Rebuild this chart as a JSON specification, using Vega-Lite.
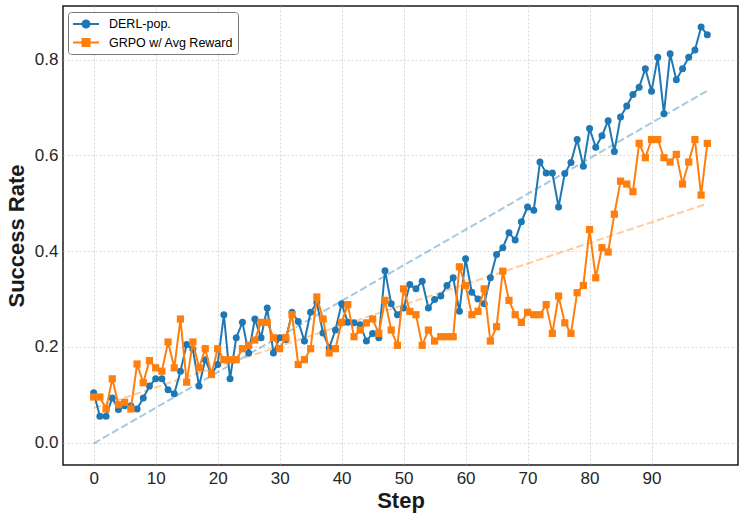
{
  "$schema": "https://vega.github.io/schema/vega-lite/v6.json",
  "width": 675,
  "height": 459,
  "autosize": {"type": "none"},
  "padding": {"left": 63, "top": 6, "right": 9, "bottom": 55},
  "background": "white",
  "datasets": {
    "runs": [
      {"step":0,"value":0.104,"series":"DERL-pop."},{"step":1,"value":0.055,"series":"DERL-pop."},{"step":2,"value":0.055,"series":"DERL-pop."},{"step":3,"value":0.093,"series":"DERL-pop."},{"step":4,"value":0.069,"series":"DERL-pop."},{"step":5,"value":0.077,"series":"DERL-pop."},{"step":6,"value":0.077,"series":"DERL-pop."},{"step":7,"value":0.070,"series":"DERL-pop."},{"step":8,"value":0.093,"series":"DERL-pop."},{"step":9,"value":0.118,"series":"DERL-pop."},
      {"step":10,"value":0.133,"series":"DERL-pop."},{"step":11,"value":0.133,"series":"DERL-pop."},{"step":12,"value":0.110,"series":"DERL-pop."},{"step":13,"value":0.102,"series":"DERL-pop."},{"step":14,"value":0.149,"series":"DERL-pop."},{"step":15,"value":0.205,"series":"DERL-pop."},{"step":16,"value":0.195,"series":"DERL-pop."},{"step":17,"value":0.118,"series":"DERL-pop."},{"step":18,"value":0.173,"series":"DERL-pop."},{"step":19,"value":0.142,"series":"DERL-pop."},
      {"step":20,"value":0.163,"series":"DERL-pop."},{"step":21,"value":0.267,"series":"DERL-pop."},{"step":22,"value":0.133,"series":"DERL-pop."},{"step":23,"value":0.219,"series":"DERL-pop."},{"step":24,"value":0.251,"series":"DERL-pop."},{"step":25,"value":0.187,"series":"DERL-pop."},{"step":26,"value":0.258,"series":"DERL-pop."},{"step":27,"value":0.219,"series":"DERL-pop."},{"step":28,"value":0.281,"series":"DERL-pop."},{"step":29,"value":0.187,"series":"DERL-pop."},
      {"step":30,"value":0.219,"series":"DERL-pop."},{"step":31,"value":0.215,"series":"DERL-pop."},{"step":32,"value":0.272,"series":"DERL-pop."},{"step":33,"value":0.253,"series":"DERL-pop."},{"step":34,"value":0.212,"series":"DERL-pop."},{"step":35,"value":0.272,"series":"DERL-pop."},{"step":36,"value":0.292,"series":"DERL-pop."},{"step":37,"value":0.229,"series":"DERL-pop."},{"step":38,"value":0.198,"series":"DERL-pop."},{"step":39,"value":0.235,"series":"DERL-pop."},
      {"step":40,"value":0.290,"series":"DERL-pop."},{"step":41,"value":0.251,"series":"DERL-pop."},{"step":42,"value":0.250,"series":"DERL-pop."},{"step":43,"value":0.246,"series":"DERL-pop."},{"step":44,"value":0.212,"series":"DERL-pop."},{"step":45,"value":0.228,"series":"DERL-pop."},{"step":46,"value":0.219,"series":"DERL-pop."},{"step":47,"value":0.359,"series":"DERL-pop."},{"step":48,"value":0.290,"series":"DERL-pop."},{"step":49,"value":0.267,"series":"DERL-pop."},
      {"step":50,"value":0.281,"series":"DERL-pop."},{"step":51,"value":0.330,"series":"DERL-pop."},{"step":52,"value":0.321,"series":"DERL-pop."},{"step":53,"value":0.337,"series":"DERL-pop."},{"step":54,"value":0.281,"series":"DERL-pop."},{"step":55,"value":0.299,"series":"DERL-pop."},{"step":56,"value":0.306,"series":"DERL-pop."},{"step":57,"value":0.328,"series":"DERL-pop."},{"step":58,"value":0.344,"series":"DERL-pop."},{"step":59,"value":0.274,"series":"DERL-pop."},
      {"step":60,"value":0.384,"series":"DERL-pop."},{"step":61,"value":0.314,"series":"DERL-pop."},{"step":62,"value":0.300,"series":"DERL-pop."},{"step":63,"value":0.290,"series":"DERL-pop."},{"step":64,"value":0.344,"series":"DERL-pop."},{"step":65,"value":0.393,"series":"DERL-pop."},{"step":66,"value":0.407,"series":"DERL-pop."},{"step":67,"value":0.438,"series":"DERL-pop."},{"step":68,"value":0.423,"series":"DERL-pop."},{"step":69,"value":0.461,"series":"DERL-pop."},
      {"step":70,"value":0.492,"series":"DERL-pop."},{"step":71,"value":0.485,"series":"DERL-pop."},{"step":72,"value":0.586,"series":"DERL-pop."},{"step":73,"value":0.563,"series":"DERL-pop."},{"step":74,"value":0.563,"series":"DERL-pop."},{"step":75,"value":0.492,"series":"DERL-pop."},{"step":76,"value":0.562,"series":"DERL-pop."},{"step":77,"value":0.585,"series":"DERL-pop."},{"step":78,"value":0.633,"series":"DERL-pop."},{"step":79,"value":0.577,"series":"DERL-pop."},
      {"step":80,"value":0.656,"series":"DERL-pop."},{"step":81,"value":0.617,"series":"DERL-pop."},{"step":82,"value":0.641,"series":"DERL-pop."},{"step":83,"value":0.672,"series":"DERL-pop."},{"step":84,"value":0.608,"series":"DERL-pop."},{"step":85,"value":0.680,"series":"DERL-pop."},{"step":86,"value":0.703,"series":"DERL-pop."},{"step":87,"value":0.727,"series":"DERL-pop."},{"step":88,"value":0.742,"series":"DERL-pop."},{"step":89,"value":0.781,"series":"DERL-pop."},
      {"step":90,"value":0.734,"series":"DERL-pop."},{"step":91,"value":0.805,"series":"DERL-pop."},{"step":92,"value":0.687,"series":"DERL-pop."},{"step":93,"value":0.812,"series":"DERL-pop."},{"step":94,"value":0.758,"series":"DERL-pop."},{"step":95,"value":0.781,"series":"DERL-pop."},{"step":96,"value":0.805,"series":"DERL-pop."},{"step":97,"value":0.820,"series":"DERL-pop."},{"step":98,"value":0.868,"series":"DERL-pop."},{"step":99,"value":0.852,"series":"DERL-pop."},
      {"step":0,"value":0.095,"series":"GRPO w/ Avg Reward"},{"step":1,"value":0.095,"series":"GRPO w/ Avg Reward"},{"step":2,"value":0.070,"series":"GRPO w/ Avg Reward"},{"step":3,"value":0.133,"series":"GRPO w/ Avg Reward"},{"step":4,"value":0.079,"series":"GRPO w/ Avg Reward"},{"step":5,"value":0.084,"series":"GRPO w/ Avg Reward"},{"step":6,"value":0.070,"series":"GRPO w/ Avg Reward"},{"step":7,"value":0.164,"series":"GRPO w/ Avg Reward"},{"step":8,"value":0.125,"series":"GRPO w/ Avg Reward"},{"step":9,"value":0.171,"series":"GRPO w/ Avg Reward"},
      {"step":10,"value":0.156,"series":"GRPO w/ Avg Reward"},{"step":11,"value":0.149,"series":"GRPO w/ Avg Reward"},{"step":12,"value":0.210,"series":"GRPO w/ Avg Reward"},{"step":13,"value":0.156,"series":"GRPO w/ Avg Reward"},{"step":14,"value":0.258,"series":"GRPO w/ Avg Reward"},{"step":15,"value":0.126,"series":"GRPO w/ Avg Reward"},{"step":16,"value":0.210,"series":"GRPO w/ Avg Reward"},{"step":17,"value":0.156,"series":"GRPO w/ Avg Reward"},{"step":18,"value":0.196,"series":"GRPO w/ Avg Reward"},{"step":19,"value":0.142,"series":"GRPO w/ Avg Reward"},
      {"step":20,"value":0.196,"series":"GRPO w/ Avg Reward"},{"step":21,"value":0.173,"series":"GRPO w/ Avg Reward"},{"step":22,"value":0.173,"series":"GRPO w/ Avg Reward"},{"step":23,"value":0.173,"series":"GRPO w/ Avg Reward"},{"step":24,"value":0.196,"series":"GRPO w/ Avg Reward"},{"step":25,"value":0.203,"series":"GRPO w/ Avg Reward"},{"step":26,"value":0.214,"series":"GRPO w/ Avg Reward"},{"step":27,"value":0.251,"series":"GRPO w/ Avg Reward"},{"step":28,"value":0.251,"series":"GRPO w/ Avg Reward"},{"step":29,"value":0.219,"series":"GRPO w/ Avg Reward"},
      {"step":30,"value":0.196,"series":"GRPO w/ Avg Reward"},{"step":31,"value":0.219,"series":"GRPO w/ Avg Reward"},{"step":32,"value":0.267,"series":"GRPO w/ Avg Reward"},{"step":33,"value":0.163,"series":"GRPO w/ Avg Reward"},{"step":34,"value":0.173,"series":"GRPO w/ Avg Reward"},{"step":35,"value":0.196,"series":"GRPO w/ Avg Reward"},{"step":36,"value":0.304,"series":"GRPO w/ Avg Reward"},{"step":37,"value":0.258,"series":"GRPO w/ Avg Reward"},{"step":38,"value":0.187,"series":"GRPO w/ Avg Reward"},{"step":39,"value":0.196,"series":"GRPO w/ Avg Reward"},
      {"step":40,"value":0.251,"series":"GRPO w/ Avg Reward"},{"step":41,"value":0.288,"series":"GRPO w/ Avg Reward"},{"step":42,"value":0.221,"series":"GRPO w/ Avg Reward"},{"step":43,"value":0.235,"series":"GRPO w/ Avg Reward"},{"step":44,"value":0.250,"series":"GRPO w/ Avg Reward"},{"step":45,"value":0.258,"series":"GRPO w/ Avg Reward"},{"step":46,"value":0.228,"series":"GRPO w/ Avg Reward"},{"step":47,"value":0.297,"series":"GRPO w/ Avg Reward"},{"step":48,"value":0.235,"series":"GRPO w/ Avg Reward"},{"step":49,"value":0.203,"series":"GRPO w/ Avg Reward"},
      {"step":50,"value":0.321,"series":"GRPO w/ Avg Reward"},{"step":51,"value":0.274,"series":"GRPO w/ Avg Reward"},{"step":52,"value":0.267,"series":"GRPO w/ Avg Reward"},{"step":53,"value":0.203,"series":"GRPO w/ Avg Reward"},{"step":54,"value":0.235,"series":"GRPO w/ Avg Reward"},{"step":55,"value":0.212,"series":"GRPO w/ Avg Reward"},{"step":56,"value":0.221,"series":"GRPO w/ Avg Reward"},{"step":57,"value":0.221,"series":"GRPO w/ Avg Reward"},{"step":58,"value":0.221,"series":"GRPO w/ Avg Reward"},{"step":59,"value":0.367,"series":"GRPO w/ Avg Reward"},
      {"step":60,"value":0.328,"series":"GRPO w/ Avg Reward"},{"step":61,"value":0.267,"series":"GRPO w/ Avg Reward"},{"step":62,"value":0.274,"series":"GRPO w/ Avg Reward"},{"step":63,"value":0.321,"series":"GRPO w/ Avg Reward"},{"step":64,"value":0.212,"series":"GRPO w/ Avg Reward"},{"step":65,"value":0.242,"series":"GRPO w/ Avg Reward"},{"step":66,"value":0.358,"series":"GRPO w/ Avg Reward"},{"step":67,"value":0.297,"series":"GRPO w/ Avg Reward"},{"step":68,"value":0.267,"series":"GRPO w/ Avg Reward"},{"step":69,"value":0.251,"series":"GRPO w/ Avg Reward"},
      {"step":70,"value":0.272,"series":"GRPO w/ Avg Reward"},{"step":71,"value":0.267,"series":"GRPO w/ Avg Reward"},{"step":72,"value":0.267,"series":"GRPO w/ Avg Reward"},{"step":73,"value":0.288,"series":"GRPO w/ Avg Reward"},{"step":74,"value":0.228,"series":"GRPO w/ Avg Reward"},{"step":75,"value":0.306,"series":"GRPO w/ Avg Reward"},{"step":76,"value":0.250,"series":"GRPO w/ Avg Reward"},{"step":77,"value":0.228,"series":"GRPO w/ Avg Reward"},{"step":78,"value":0.313,"series":"GRPO w/ Avg Reward"},{"step":79,"value":0.328,"series":"GRPO w/ Avg Reward"},
      {"step":80,"value":0.445,"series":"GRPO w/ Avg Reward"},{"step":81,"value":0.344,"series":"GRPO w/ Avg Reward"},{"step":82,"value":0.407,"series":"GRPO w/ Avg Reward"},{"step":83,"value":0.398,"series":"GRPO w/ Avg Reward"},{"step":84,"value":0.477,"series":"GRPO w/ Avg Reward"},{"step":85,"value":0.546,"series":"GRPO w/ Avg Reward"},{"step":86,"value":0.540,"series":"GRPO w/ Avg Reward"},{"step":87,"value":0.524,"series":"GRPO w/ Avg Reward"},{"step":88,"value":0.625,"series":"GRPO w/ Avg Reward"},{"step":89,"value":0.595,"series":"GRPO w/ Avg Reward"},
      {"step":90,"value":0.633,"series":"GRPO w/ Avg Reward"},{"step":91,"value":0.633,"series":"GRPO w/ Avg Reward"},{"step":92,"value":0.595,"series":"GRPO w/ Avg Reward"},{"step":93,"value":0.586,"series":"GRPO w/ Avg Reward"},{"step":94,"value":0.602,"series":"GRPO w/ Avg Reward"},{"step":95,"value":0.540,"series":"GRPO w/ Avg Reward"},{"step":96,"value":0.586,"series":"GRPO w/ Avg Reward"},{"step":97,"value":0.633,"series":"GRPO w/ Avg Reward"},{"step":98,"value":0.517,"series":"GRPO w/ Avg Reward"},{"step":99,"value":0.625,"series":"GRPO w/ Avg Reward"}
    ],
    "trends": [
      {"step":0,"value":-0.002,"series":"DERL-pop."},{"step":99,"value":0.735,"series":"DERL-pop."},
      {"step":0,"value":0.072,"series":"GRPO w/ Avg Reward"},{"step":99,"value":0.499,"series":"GRPO w/ Avg Reward"}
    ]
  },
  "encoding": {
    "x": {"field": "step", "type": "quantitative",
      "scale": {"domain": [-4.95, 103.95], "nice": false, "zero": false},
      "axis": {"values": [0,10,20,30,40,50,60,70,80,90], "title": "Step", "format": "d"}},
    "y": {"field": "value", "type": "quantitative",
      "scale": {"domain": [-0.047, 0.912], "nice": false, "zero": false},
      "axis": {"values": [0,0.2,0.4,0.6,0.8], "title": "Success Rate", "format": ".1f"}},
    "color": {"field": "series", "type": "nominal",
      "scale": {"domain": ["DERL-pop.", "GRPO w/ Avg Reward"], "range": ["#1f77b4", "#ff7f0e"]}}
  },
  "layer": [
    {
      "data": {"name": "trends"},
      "mark": {"type": "line", "strokeWidth": 2, "strokeDash": [7.4, 3.2], "opacity": 0.4}
    },
    {
      "data": {"name": "runs"},
      "transform": [{"filter": "datum.series === 'DERL-pop.'"}],
      "mark": {"type": "line", "strokeWidth": 2, "point": {"shape": "circle", "size": 49, "filled": true, "opacity": 1}},
      "encoding": {
        "color": {"field": "series", "type": "nominal",
          "legend": {
            "title": null, "orient": "none", "legendX": 5, "legendY": 6,
            "labelFont": "Liberation Sans", "labelFontSize": 12.5, "labelColor": "#000000", "labelLimit": 400,
            "symbolSize": 196, "symbolStrokeWidth": 2, "symbolOffset": 6, "labelOffset": 15,
            "rowPadding": 2.5, "padding": 4, "fillColor": "white", "strokeColor": "#777777", "cornerRadius": 3,
            "encode": {"symbols": {"update": {
              "shape": {"signal": "datum.value === 'DERL-pop.' ? 'M-1.857,0L1.857,0M-0.5,0A0.5,0.5,0,1,0,0.5,0A0.5,0.5,0,1,0,-0.5,0Z' : 'M-1.857,0L1.857,0M-0.5,-0.5L0.5,-0.5L0.5,0.5L-0.5,0.5Z'"},
              "fill": {"signal": "scale('color', datum.value)"},
              "stroke": {"signal": "scale('color', datum.value)"},
              "strokeWidth": {"value": 2},
              "opacity": {"value": 1},
              "fillOpacity": {"value": 1},
              "strokeOpacity": {"value": 1}
            }}}
          }}
      }
    },
    {
      "data": {"name": "runs"},
      "transform": [{"filter": "datum.series === 'GRPO w/ Avg Reward'"}],
      "mark": {"type": "line", "strokeWidth": 2, "point": {"shape": "square", "size": 52, "filled": true, "opacity": 1}}
    }
  ],
  "config": {
    "font": "Liberation Sans",
    "view": {"stroke": "#1a1a1a", "strokeWidth": 1.5},
    "axis": {
      "domain": false, "ticks": false,
      "grid": true, "gridColor": "#cccccc", "gridDash": [2, 2], "gridWidth": 0.8,
      "labelFont": "Liberation Sans", "labelFontSize": 17, "labelColor": "#262626", "labelPadding": 5,
      "titleFont": "Liberation Sans", "titleFontSize": 22, "titleFontWeight": "bold", "titleColor": "#1a1a1a"
    },
    "axisX": {"titlePadding": 4},
    "axisY": {"titlePadding": 6, "labelPadding": 5}
  }
}
